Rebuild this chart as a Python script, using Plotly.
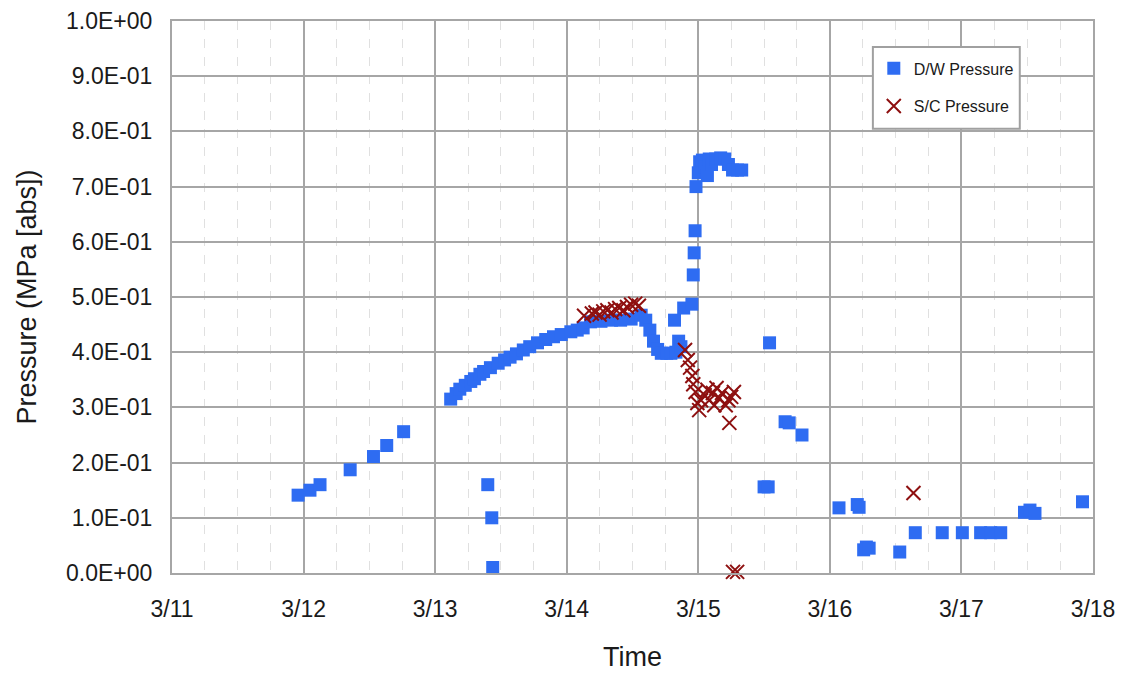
import plotly.graph_objects as go

# ---- D/W pressure (blue squares) ----
dw_time = [
    "2011-03-11 23:00", "2011-03-12 01:10", "2011-03-12 03:00", "2011-03-12 08:30",
    "2011-03-12 12:45", "2011-03-12 15:10", "2011-03-12 18:15",
    "2011-03-13 02:50", "2011-03-13 03:50", "2011-03-13 04:30", "2011-03-13 05:30",
    "2011-03-13 06:30", "2011-03-13 07:10", "2011-03-13 08:10", "2011-03-13 08:50",
    "2011-03-13 09:36", "2011-03-13 10:05", "2011-03-13 10:20", "2011-03-13 10:30",
    "2011-03-13 11:30", "2011-03-13 12:40", "2011-03-13 13:40", "2011-03-13 14:50",
    "2011-03-13 16:05", "2011-03-13 17:15", "2011-03-13 18:40", "2011-03-13 20:10",
    "2011-03-13 21:35", "2011-03-13 23:00",
    "2011-03-14 00:45", "2011-03-14 01:55", "2011-03-14 03:00", "2011-03-14 04:20",
    "2011-03-14 06:15", "2011-03-14 08:10", "2011-03-14 09:50", "2011-03-14 11:45",
    "2011-03-14 13:35", "2011-03-14 14:25", "2011-03-14 15:10", "2011-03-14 15:50",
    "2011-03-14 16:35", "2011-03-14 17:15", "2011-03-14 18:15", "2011-03-14 19:00",
    "2011-03-14 19:40", "2011-03-14 19:55", "2011-03-14 20:25", "2011-03-14 20:50",
    "2011-03-14 21:20", "2011-03-14 22:50", "2011-03-14 23:05", "2011-03-14 23:15",
    "2011-03-14 23:25", "2011-03-14 23:35",
    "2011-03-15 00:00", "2011-03-15 00:15", "2011-03-15 00:45", "2011-03-15 01:10",
    "2011-03-15 01:40", "2011-03-15 02:00", "2011-03-15 02:25", "2011-03-15 03:10",
    "2011-03-15 04:05", "2011-03-15 04:50", "2011-03-15 05:30", "2011-03-15 06:15",
    "2011-03-15 07:10", "2011-03-15 07:55",
    "2011-03-15 12:00", "2011-03-15 12:45", "2011-03-15 13:00", "2011-03-15 15:50",
    "2011-03-15 16:35", "2011-03-15 18:55",
    "2011-03-16 01:40", "2011-03-16 05:00", "2011-03-16 05:20", "2011-03-16 06:10",
    "2011-03-16 06:40", "2011-03-16 07:10", "2011-03-16 12:45", "2011-03-16 15:35",
    "2011-03-16 20:30",
    "2011-03-17 00:10", "2011-03-17 03:30", "2011-03-17 05:20", "2011-03-17 07:10",
    "2011-03-17 11:30", "2011-03-17 12:30", "2011-03-17 13:25", "2011-03-17 22:05",
]
dw_pressure = [
    0.141, 0.150, 0.160, 0.187,
    0.211, 0.231, 0.256,
    0.315, 0.325, 0.333, 0.340,
    0.347, 0.352, 0.360, 0.365,
    0.160, 0.372, 0.100, 0.010,
    0.380, 0.386, 0.391, 0.397,
    0.404, 0.410, 0.417, 0.423,
    0.428, 0.432,
    0.437, 0.440, 0.444, 0.455,
    0.456, 0.458, 0.458, 0.460,
    0.467, 0.458, 0.440, 0.420,
    0.405, 0.398, 0.398, 0.398,
    0.458, 0.400, 0.420, 0.410,
    0.480, 0.487, 0.540, 0.580,
    0.620, 0.700,
    0.725, 0.745, 0.748, 0.735,
    0.720, 0.750, 0.740, 0.750,
    0.752, 0.750, 0.740, 0.730,
    0.730, 0.730,
    0.156, 0.156, 0.417, 0.274,
    0.272, 0.250,
    0.118, 0.124, 0.119, 0.042,
    0.047, 0.045, 0.038, 0.073,
    0.073,
    0.073, 0.073, 0.073, 0.073,
    0.110, 0.114, 0.108, 0.129,
]

# ---- S/C pressure (dark red crosses) ----
sc_time = [
    "2011-03-14 03:10", "2011-03-14 04:35", "2011-03-14 05:15", "2011-03-14 06:00",
    "2011-03-14 06:40", "2011-03-14 07:25", "2011-03-14 08:10", "2011-03-14 08:50",
    "2011-03-14 09:35", "2011-03-14 10:20", "2011-03-14 11:00", "2011-03-14 11:45",
    "2011-03-14 12:30", "2011-03-14 13:10",
    "2011-03-14 21:35", "2011-03-14 22:05", "2011-03-14 22:30", "2011-03-14 22:55",
    "2011-03-14 23:05", "2011-03-14 23:30", "2011-03-14 23:50",
    "2011-03-15 00:10", "2011-03-15 00:30", "2011-03-15 01:10", "2011-03-15 01:40",
    "2011-03-15 02:00", "2011-03-15 02:40", "2011-03-15 02:55", "2011-03-15 03:20",
    "2011-03-15 03:50", "2011-03-15 04:20", "2011-03-15 05:00", "2011-03-15 05:30",
    "2011-03-15 05:40", "2011-03-15 06:00", "2011-03-15 06:30",
    "2011-03-15 06:20", "2011-03-15 07:05",
    "2011-03-16 15:15",
]
sc_pressure = [
    0.466, 0.470, 0.472, 0.468,
    0.474, 0.476, 0.472, 0.478,
    0.480, 0.476, 0.482, 0.486,
    0.488, 0.484,
    0.404, 0.386, 0.372, 0.357,
    0.342, 0.328, 0.308,
    0.295, 0.313, 0.322, 0.332,
    0.313, 0.326, 0.304, 0.335,
    0.317, 0.326, 0.304, 0.313,
    0.272, 0.319, 0.328,
    0.002, 0.002,
    0.145,
]

# ---- axis ticks ----
y_tick_values = [0.0, 0.1, 0.2, 0.3, 0.4, 0.5, 0.6, 0.7, 0.8, 0.9, 1.0]
y_tick_labels = ["0.0E+00", "1.0E-01", "2.0E-01", "3.0E-01", "4.0E-01", "5.0E-01",
                 "6.0E-01", "7.0E-01", "8.0E-01", "9.0E-01", "1.0E+00"]
x_range = ["2011-03-11 00:00", "2011-03-18 00:00"]

FONT = "Liberation Sans, Arial, sans-serif"
GRID = "#A6A6A6"

fig = go.Figure()
fig.add_trace(go.Scatter(
    x=dw_time, y=dw_pressure, mode="markers", name="D/W Pressure",
    legendgroup="dw", cliponaxis=False,
    marker=dict(symbol="square", size=13, color="#2E6CF2", line=dict(width=0)),
))
fig.add_trace(go.Scatter(
    x=sc_time, y=sc_pressure, mode="markers", name="S/C Pressure",
    legendgroup="sc", cliponaxis=False,
    marker=dict(symbol="x-thin-open", size=14, color="#8E1010",
                line=dict(width=2, color="#8E1010")),
))

# legend frame drawn as a box behind the (transparent) legend
fig.add_shape(
    type="rect", xref="paper", yref="paper",
    x0=0.761, x1=0.9205, y0=0.805, y1=0.953,
    line=dict(color="#A0A0A0", width=2), fillcolor="white", layer="above",
)

# the page body adds an 8px offset, so the figure is sized 8px smaller
fig.update_layout(
    width=1118, height=671,
    margin=dict(l=164, r=33, t=13, b=106),
    paper_bgcolor="white", plot_bgcolor="white",
    font=dict(family=FONT, color="#1a1a1a"),
    showlegend=True,
    legend=dict(
        x=0.762, y=0.945, xanchor="left", yanchor="top",
        bgcolor="rgba(0,0,0,0)", borderwidth=0,
        font=dict(size=16, family=FONT, color="#1a1a1a"),
        tracegroupgap=14, itemsizing="trace",
    ),
    xaxis=dict(
        type="date", range=x_range, dtick=86400000, tick0="2011-03-11",
        tickformat="%-m/%d", tickfont=dict(size=23, family=FONT),
        showgrid=True, gridcolor=GRID, gridwidth=2,
        showline=True, linecolor=GRID, linewidth=2, mirror=True,
        ticks="outside", ticklen=14, tickcolor="rgba(0,0,0,0)",
        minor=dict(dtick=6 * 3600 * 1000, tick0="2011-03-11", showgrid=True,
                   gridcolor="#E0E0E0", griddash="dash", gridwidth=1),
        title=dict(text="Time", font=dict(size=27, family=FONT), standoff=27),
        zeroline=False, automargin=False,
    ),
    yaxis=dict(
        range=[0, 1.0], tickvals=y_tick_values, ticktext=y_tick_labels,
        tickfont=dict(size=23, family=FONT),
        showgrid=True, gridcolor=GRID, gridwidth=2,
        showline=True, linecolor=GRID, linewidth=2, mirror=True,
        ticks="outside", ticklen=13, tickcolor="rgba(0,0,0,0)",
        title=dict(text="Pressure (MPa [abs])", font=dict(size=27, family=FONT), standoff=22),
        zeroline=False, automargin=False,
    ),
)

fig.write_html("out.html")
